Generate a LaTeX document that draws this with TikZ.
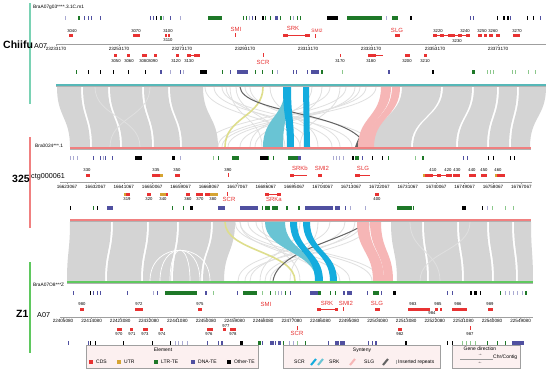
\documentclass[tikz,border=0pt]{standalone}
\usepackage{fontspec}
\setmainfont{Liberation Sans}
\usetikzlibrary{positioning}
\definecolor{chiTeal}{RGB}{86,184,184}
\definecolor{chiMint}{RGB}{122,210,180}
\definecolor{ctgPink}{RGB}{240,128,128}
\definecolor{zGreen}{RGB}{95,200,95}
\definecolor{synGray}{RGB}{212,212,212}
\definecolor{scrYellow}{RGB}{222,222,140}
\definecolor{srkBlue}{RGB}{20,172,222}
\definecolor{srkTeal}{RGB}{105,196,212}
\definecolor{slgPink}{RGB}{246,182,182}
\definecolor{insGray}{RGB}{100,100,100}
\definecolor{cdsRed}{RGB}{232,50,50}
\definecolor{utrGold}{RGB}{214,164,50}
\definecolor{teGreen}{RGB}{30,120,40}
\definecolor{teBlue}{RGB}{80,80,160}
\definecolor{teLav}{RGB}{170,170,210}
\definecolor{teLGreen}{RGB}{140,200,140}
\definecolor{legFill}{RGB}{252,240,240}

% band between two tracks, uses \ya, \ym, \yb
\newcommand{\ribbon}[5][synGray]{%
  \fill[#1] (#2,\ya) .. controls (#2,\ym) and (#4,\ym) .. (#4,\yb)
    -- (#5,\yb) .. controls (#5,\ym) and (#3,\ym) .. (#3,\ya) -- cycle;}

\begin{document}
\begin{tikzpicture}[x=1pt,y=-1pt,
    ticklbl/.style={font=\fontsize{4.6}{5}\selectfont, inner sep=0pt},
    genenum/.style={font=\fontsize{4.2}{5}\selectfont, inner sep=0pt},
    genename/.style={font=\fontsize{6}{6}\selectfont, text=cdsRed, inner sep=0pt},
    smallname/.style={font=\fontsize{4.8}{5}\selectfont, text=cdsRed, inner sep=0pt},
    idlbl/.style={font=\fontsize{4.8}{5}\selectfont, inner sep=0pt, anchor=west},
    genomelbl/.style={font=\fontsize{10.5}{11}\selectfont\bfseries, inner sep=0pt, anchor=west},
    chrlbl/.style={font=\fontsize{7.2}{8}\selectfont, inner sep=0pt, anchor=west},
    axisline/.style={draw=gray!75, line width=0.6pt},
    synline/.style={draw=gray!24, line width=0.8pt},
    intron/.style={draw=cdsRed, line width=0.5pt},
    legbox/.style={draw=gray!75, fill=legFill, line width=0.5pt},
    legtext/.style={font=\fontsize{5}{6}\selectfont, inner sep=0pt, anchor=west},
    legtitle/.style={font=\fontsize{5}{6}\selectfont, inner sep=0pt}]
    \useasboundingbox (0,0) rectangle (550,373);
    \fill[white] (0,0) rectangle (550,373);

    % ---------------- synteny ribbons, Chiifu -> 325
    \pgfmathsetmacro{\ya}{87}
    \pgfmathsetmacro{\yb}{147}
    \pgfmathsetmacro{\ym}{117}
    \foreach \a/\c in {205/300, 214/332, 222/352, 230/262, 236/285, 250/340, 330/205,
        346/218, 360/240, 376/228, 312/250, 322/272, 340/300, 270/318, 226/310, 355/255,
        366/222, 245/372}
        \draw[synline] (\a,\ya) .. controls (\a,\ym) and (\c,\ym) .. (\c,\yb);
    \foreach \a/\b/\c/\d in {57/81/70/90, 83/108/92/120, 110/142/122/152, 144/168/154/180,
        170/203/182/218, 402/441/372/411, 443/472/413/456, 474/497/458/487,
        499/517/489/509, 519/546/511/530}
        \ribbon{\a}{\b}{\c}{\d};
    \foreach \a/\c in {95/140, 150/110}
        \draw[synline] (\a,\ya) .. controls (\a,\ym) and (\c,\ym) .. (\c,\yb);
    \draw[scrYellow, line width=1.6pt] (263,\ya) .. controls (263,\ym) and (225,\ym) .. (225,\yb);
    \draw[insGray, line width=1pt] (240,\ya) .. controls (242,112) and (340,112) .. (362,140);
    \fill[insGray] (355,147) .. controls (357,141) and (359,137) .. (361,135)
        .. controls (364,140) and (368,144) .. (370,147) -- cycle;
    \ribbon[srkTeal]{285}{289}{263}{283}
    \ribbon[srkBlue]{283}{291}{287}{294}
    \ribbon[srkBlue]{303}{309}{304}{310}
    \ribbon[slgPink]{381}{391}{358}{367}
    \ribbon[slgPink]{392}{400}{366}{374}

    % ---------------- synteny ribbons, 325 -> Z1
    \pgfmathsetmacro{\ya}{222}
    \pgfmathsetmacro{\yb}{281}
    \pgfmathsetmacro{\ym}{251.5}
    \foreach \a/\c in {240/350, 248/372, 256/380, 262/300, 330/238, 345/250, 355/265,
        370/270, 300/260, 318/290, 240/320, 235/340, 362/245}
        \draw[synline] (\a,\ya) .. controls (\a,\ym) and (\c,\ym) .. (\c,\yb);
    \foreach \a/\b/\c/\d in {70/111/67/105, 113/147/107/141, 149/177/143/171, 179/211/173/201,
        213/235/203/224, 391/422/397/427, 424/457/429/462, 459/487/464/492,
        489/512/494/516, 514/531/518/533}
        \ribbon{\a}{\b}{\c}{\d};
    \foreach \a/\b in {150/210, 160/200, 170/190}
        \draw[white, line width=0.7pt] (\a,\yb) .. controls (\a,240) and (\b,240) .. (\b,\yb);
    \foreach \a/\c in {410/440, 470/420}
        \draw[synline] (\a,\ya) .. controls (\a,\ym) and (\c,\ym) .. (\c,\yb);
    \draw[scrYellow, line width=1.6pt] (225,\ya) .. controls (225,\ym) and (295,\ym) .. (295,\yb);
    \draw[insGray, line width=1pt] (368,\ya) .. controls (340,242) and (278,250) .. (273,\yb);
    \ribbon[srkTeal]{265}{285}{316}{320}
    \ribbon[srkBlue]{290}{297}{315}{323}
    \ribbon[srkBlue]{303}{310}{330}{337}
    \ribbon[slgPink]{357}{369}{373}{384}
    \ribbon[slgPink]{370}{381}{384}{393}

    % ---------------- chromosome bars
    \draw[gray!60, line width=0.9pt] (56,86.6) -- (546,86.6);
    \draw[chiTeal, line width=1.8pt] (56,85) -- (546,85);
    \draw[gray!60, line width=0.9pt] (70,149.6) -- (531,149.6);
    \draw[ctgPink, line width=1.8pt] (70,148) -- (531,148);
    \draw[gray!60, line width=0.9pt] (70,221.6) -- (531,221.6);
    \draw[ctgPink, line width=1.8pt] (70,220) -- (531,220);
    \draw[gray!60, line width=0.9pt] (67,283.6) -- (533,283.6);
    \draw[zGreen, line width=1.8pt] (67,282) -- (533,282);

    % genome side lines
    \draw[chiMint, line width=1.1pt] (30,3) -- (30,104);
    \draw[ctgPink, line width=1.1pt] (30,137) -- (30,228);
    \draw[zGreen, line width=1.1pt] (30,262) -- (30,353);

    % ---------------- labels left
    \node[idlbl] (idChi) at (33,7) {BraA07g03****.3.1C.m1};
    \node[genomelbl] (gChi) at (3,45) {Chiifu};
    \node[chrlbl] (cChi) at (34,46) {A07};
    \node[idlbl] (idCtg) at (35,146) {Bra0024***.1};
    \node[genomelbl] (gCtg) at (12,179) {325};
    \node[chrlbl] (cCtg) at (31,177) {ctg000061};
    \node[idlbl] (idZ) at (33,285) {BraA07O8***Z};
    \node[genomelbl] (gZ) at (16,314) {Z1};
    \node[chrlbl] (cZ) at (37,315) {A07};

    % ---------------- TE tracks
    \foreach \x/\w/\cl in {65/1/teLav, 78/1.5/teGreen, 84/1/teBlue, 88/1/teBlue, 91/1/teBlue,
        100/1/teBlue, 150/1/teBlue, 153/1/teBlue, 156/1/black, 160/1.5/teGreen, 163/1/teLav,
        170/1/teBlue, 180/1/teLav, 208/14/teGreen, 243/1/teGreen, 246/1/teGreen, 249/1/teLav,
        252/1/teBlue, 255/1/black, 262/2/black, 265/1/teGreen, 270/1/teGreen, 275/3/teBlue,
        280/1/teGreen, 290/1/teGreen, 293/1/teLav, 297/1/teGreen, 300/1/teGreen, 327/11/black,
        347/35/teGreen, 386/1/teLav, 392/6/teGreen, 410/1.5/black, 470/1/teBlue, 473/1/teBlue,
        497/1/black, 503/2/black, 507/2/black, 510/1/teBlue, 527/1/black, 533/1/black, 540/1/teBlue}
        \fill[\cl] (\x,16) rectangle ++(\w,3.5);
    \foreach \x/\w/\cl in {76/1/teGreen, 88/1/black, 100/1/black, 113/1/black, 128/1/black,
        145/1/black, 160/2/teBlue, 170/1/teLav, 180/1/teBlue, 183/1/teLav, 200/7/black,
        222/1/teGreen, 230/1/teBlue, 237/11/teBlue, 255/1/teGreen, 262/1/teGreen, 272/1/teGreen,
        277/1/teLav, 293/1/teBlue, 296/1/teBlue, 307/1/teBlue, 311/8/teBlue, 321/2/teGreen,
        342/1/teLGreen, 388/2/teBlue, 432/1.5/black, 472/3/teGreen, 487/1/teLGreen, 490/1/teLGreen,
        493/1/teLGreen, 512/1/teLGreen, 515/1/teLGreen, 528/1/teLGreen, 535/1/teLGreen}
        \fill[\cl] (\x,70) rectangle ++(\w,3.5);
    \foreach \x/\w/\cl in {70/1/teLav, 73/1/teLav, 77/1/teLav, 93/1/teBlue, 100/1/teBlue,
        103/1/teLav, 105/1/teBlue, 112/1/teBlue, 135/7/black, 172/3/black, 180/1/teLav,
        213/1/teLGreen, 218/1/teGreen, 232/7/teGreen, 260/8/black, 268/1/teGreen, 273/1/teGreen,
        288/10/teGreen, 298/3/teBlue, 333/1/teLav, 336/1/teLav, 339/1/teLav, 343/1/teLav,
        352/2/black, 355/4/teGreen, 362/1/teBlue, 372/1/black, 382/1/black, 388/1/teGreen,
        415/1/teLGreen, 422/2/teGreen, 463/1/teBlue, 467/1/teBlue, 488/1/black, 493/1/black,
        510/1/black, 514/1/black}
        \fill[\cl] (\x,156) rectangle ++(\w,3.5);
    \foreach \x/\w/\cl in {70/1/black, 93/1/teGreen, 97/1/black, 107/6/teBlue, 172/1/teGreen,
        183/1/teGreen, 190/3/black, 218/7/teBlue, 240/18/teBlue, 262/1/teGreen, 265/5/teGreen,
        272/6/teGreen, 286/2/teGreen, 298/2/teGreen, 305/28/teBlue, 335/5/teBlue, 345/1/teBlue,
        350/1/teLav, 365/1/teLav, 397/15/teGreen, 413/1/teGreen, 462/4/black, 482/1/black,
        487/1/teLav, 492/1/teLGreen, 505/1/teLGreen, 513/1/teLGreen}
        \fill[\cl] (\x,206) rectangle ++(\w,3.5);
    \foreach \x/\w/\cl in {73/1/teBlue, 90/1/black, 93/1/teBlue, 97/1/teBlue, 100/1/teBlue,
        127/1/teBlue, 153/1/teLav, 157/1/teBlue, 165/32/teGreen, 205/2/teBlue, 213/1/teLGreen,
        237/1/teBlue, 243/14/teGreen, 262/1/teLGreen, 270/1/teGreen, 275/1/teLGreen, 278/1/teLav,
        281/1/teLav, 285/1/teGreen, 290/1/teBlue, 310/8/teBlue, 318/3/teGreen, 330/1/teGreen,
        335/1/teGreen, 343/2/teBlue, 347/5/teBlue, 367/1/teBlue, 373/6/teGreen, 381/1/teBlue,
        393/3/black, 447/1/teBlue, 452/1/teBlue, 470/2/black, 474/3/black, 480/1/black,
        500/1/teGreen, 505/1/teLav, 509/1/teLav, 513/1/teLav, 517/1/teLav, 522/1/teLav, 525/2/teGreen}
        \fill[\cl] (\x,291) rectangle ++(\w,3.5);
    \foreach \x/\w/\cl in {68/1/teBlue, 88/1/teBlue, 90/1/black, 95/1/black, 123/1/black,
        152/1/black, 170/1/black, 175/1/teLav, 178/1/teLav, 182/1/teLav, 187/1/teLav, 207/1/teBlue,
        218/1/teBlue, 221/2/teBlue, 240/3/black, 258/3/teGreen, 262/1/teBlue, 270/4/teBlue,
        275/1/teBlue, 278/3/teBlue, 283/1/teGreen, 289/1/teLav, 293/1/teLav, 297/1/teLGreen,
        305/1/teGreen, 328/1/teBlue, 335/4/teBlue, 340/5/teBlue, 368/1/teBlue, 372/1/teBlue,
        375/2/teBlue, 405/1.5/black, 447/1/black, 452/1/black, 462/1/teLGreen, 466/1/teLGreen,
        470/1/teLGreen, 475/1/teLGreen, 487/1/teGreen, 497/1/teGreen, 505/1/teGreen, 512/12/teBlue}
        \fill[\cl] (\x,341) rectangle ++(\w,3.5);

    % ---------------- axes and coordinates
    \draw[axisline] (56,44) -- (546,44);
    \foreach \x/\t [count=\k] in {56/23233170, 119/23253170, 182/23273170, 245/23293170,
        308/23313170, 371/23333170, 435/23353170, 498/23373170} {
        \draw[axisline] (\x,44) -- (\x,46);
        \node[ticklbl] (tChi\k) at (\x,49) {\t};
    }
    \draw[axisline] (60,182) -- (532,182);
    \foreach \k in {0,...,16} {
        \pgfmathsetmacro{\x}{67+28.4*\k}
        \pgfmathtruncatemacro{\v}{623+9*\k}
        \draw[axisline] (\x,182) -- (\x,184);
        \node[ticklbl] (tCtg\k) at (\x,186.5) {16\v067};
    }
    \draw[axisline] (60,317) -- (533,317);
    \foreach \k in {0,...,16} {
        \pgfmathsetmacro{\x}{63+28.6*\k}
        \pgfmathtruncatemacro{\v}{405+9*\k}
        \draw[axisline] (\x,317) -- (\x,319);
        \node[ticklbl] (tZ\k) at (\x,321) {22\v080};
    }

    % ---------------- Chiifu genes
    \foreach \a/\b in {69/73, 133/140, 165/167, 168/170, 283/288, 305/310, 395/400,
        433/437, 440/444, 448/455, 458/462, 466/470, 478/482, 484/487, 489/493, 496/500, 513/520}
        \fill[cdsRed] (\a,33.6) rectangle (\b,36.6);
    \foreach \a/\b in {288/305, 437/458, 462/466} \draw[intron] (\a,35.1) -- (\b,35.1);
    \fill[cdsRed] (234.6,33) rectangle (235.6,37);
    \fill[cdsRed] (314.6,34) rectangle (315.6,37.5);
    \foreach \x/\t in {72/3040, 136/3070, 168/3100, 438/3220, 465/3240, 482/3250, 493/3260, 517/3270}
        \node[genenum] at (\x,31) {\t};
    \node[genenum] at (168,40.5) {3110};
    \node[genenum] at (457,40.8) {3230};
    \node[genename] (smiChi) at (236,29) {SMI};
    \node[genename] (srkChi) at (293,28) {SRK};
    \node[smallname] (smi2Chi) at (317,30.5) {SMI2};
    \node[genename] (slgChi) at (397,30.5) {SLG};
    \foreach \a/\b in {114/117, 127/130, 142/147, 154/157, 176/179, 187/191, 194/200,
        368/376, 405/410, 424/427}
        \fill[cdsRed] (\a,53.6) rectangle (\b,56.6);
    \foreach \a/\b in {191/194, 376/383} \draw[intron] (\a,55.1) -- (\b,55.1);
    \fill[cdsRed] (262.5,53) rectangle (263.5,57);
    \fill[cdsRed] (339.5,53.5) rectangle (340.5,57);
    \foreach \x/\t in {116/3050, 129/3060, 144/3080, 153/3090, 176/3120, 189/3130,
        340/3170, 371/3180, 407/3200, 425/3210}
        \node[genenum] at (\x,61) {\t};
    \node[genename] (scrChi) at (263,62) {SCR};

    % ---------------- 325 genes
    \foreach \a/\b in {86/90, 152/160, 175/180, 290/294, 318/322, 355/360, 425/433,
        437/441, 446/452, 453/460, 469/476, 481/487, 497/505}
        \fill[cdsRed] (\a,173.6) rectangle (\b,176.6);
    \foreach \a/\b in {160/163, 423/425, 495/497} \fill[utrGold] (\a,173.6) rectangle (\b,176.6);
    \foreach \a/\b in {294/307, 360/370, 433/437, 441/446} \draw[intron] (\a,175.1) -- (\b,175.1);
    \fill[cdsRed] (227.5,173) rectangle (228.5,177);
    \foreach \x/\t in {87/330, 156/335, 177/350, 228/390, 433/410, 448/420, 457/430,
        472/440, 484/450, 498/460}
        \node[genenum] at (\x,170.5) {\t};
    \node[genename] (srkbCtg) at (300,168.5) {SRKb};
    \node[genename] (smi2Ctg) at (322,168.5) {SMI2};
    \node[genename] (slgCtg) at (363,168.5) {SLG};
    \foreach \a/\b in {126/130, 147/151, 166/168, 186/190, 196/203, 205/210, 265/269, 277/281, 375/379}
        \fill[cdsRed] (\a,192.6) rectangle (\b,195.6);
    \foreach \a/\b in {124/126, 160/166, 210/218} \fill[utrGold] (\a,192.6) rectangle (\b,195.6);
    \draw[intron] (269,194.1) -- (277,194.1);
    \fill[cdsRed] (226.5,192) rectangle (227.5,196);
    \foreach \x/\t in {127/319, 149/320, 163/340, 188/360, 200/370, 213/380, 377/400}
        \node[genenum] at (\x,199.5) {\t};
    \node[genename] (scrCtg) at (229,199) {SCR};
    \node[genename] (srkaCtg) at (274,199) {SRKa};

    % ---------------- Z1 genes
    \foreach \a/\b in {80/84, 135/143, 198/202, 317/321, 335/338, 375/380, 408/430,
        435/438, 440/442, 452/467, 488/493}
        \fill[cdsRed] (\a,308.1) rectangle (\b,311.1);
    \draw[intron] (321,309.6) -- (335,309.6);
    \fill[cdsRed] (342.5,307) rectangle (343.5,311);
    \foreach \x/\t in {82/980, 139/972, 200/975, 413/983, 438/985, 458/986, 490/989}
        \node[genenum] at (\x,304) {\t};
    \node[genenum] at (432,313.2) {984};
    \node[genename] (smiZ) at (266,304) {SMI};
    \node[genename] (srkZ) at (327,303) {SRK};
    \node[genename] (smi2Z) at (346,303) {SMI2};
    \node[genename] (slgZ) at (377,303) {SLG};
    \foreach \a/\b in {117/122, 130/133, 143/148, 160/163, 207/213, 223/226, 230/236, 398/402}
        \fill[cdsRed] (\a,327.6) rectangle (\b,330.6);
    \fill[cdsRed] (296.5,326) rectangle (297.5,330);
    \fill[cdsRed] (469.5,326) rectangle (470.5,330);
    \foreach \x/\t in {119/970, 132/971, 145/973, 162/974, 209/976, 233/978, 400/982, 470/987}
        \node[genenum] at (\x,334) {\t};
    \node[genenum] at (226,325.6) {977};
    \node[genename] (scrZ) at (297,333.5) {SCR};

    % ---------------- legend
    \draw[legbox] (86,345) rectangle (258,368);
    \node[legtitle] (legElem) at (163,350) {Element};
    \foreach \x/\cl/\t in {91/cdsRed/CDS, 119/utrGold/UTR, 156/teGreen/LTR-TE,
        193/teBlue/DNA-TE, 229/black/Other-TE} {
        \fill[\cl] (\x-2.2,359.8) rectangle (\x+2.2,364.2);
        \node[legtext] at (\x+5,362) {\t};
    }
    \draw[legbox] (283,345) rectangle (440,368);
    \node[legtitle] (legSyn) at (362,350) {Synteny};
    \node[legtext] (legScr) at (294,362) {SCR};
    \draw[srkBlue, line width=2pt] (311,365) -- (316,359);
    \draw[srkTeal, line width=2pt] (318,365) -- (323,359);
    \node[legtext] (legSrk) at (329,362) {SRK};
    \draw[slgPink, line width=2pt] (350,365) -- (355,359);
    \node[legtext] (legSlg) at (364,362) {SLG};
    \draw[insGray, line width=2pt] (383,365) -- (388,359);
    \draw[gray!70, line width=0.5pt] (396.5,360) -- (396.5,364);
    \node[legtext] (legIns) at (398,362) {Inserted repeats};
    \draw[legbox] (452,345) rectangle (520,368);
    \node[legtitle] (legDir) at (480,349) {Gene direction};
    \node[legtitle, font=\fontsize{4.5}{5}\selectfont] (arrR) at (480,355.3) {→};
    \node[legtitle, font=\fontsize{4.5}{5}\selectfont] (arrL) at (480,363.2) {←};
    \draw[gray!80, line width=0.5pt] (460,359.3) -- (493,359.3);
    \node[legtext] (legChr) at (493,357.6) {Chr/Contig};
\end{tikzpicture}
\end{document}
